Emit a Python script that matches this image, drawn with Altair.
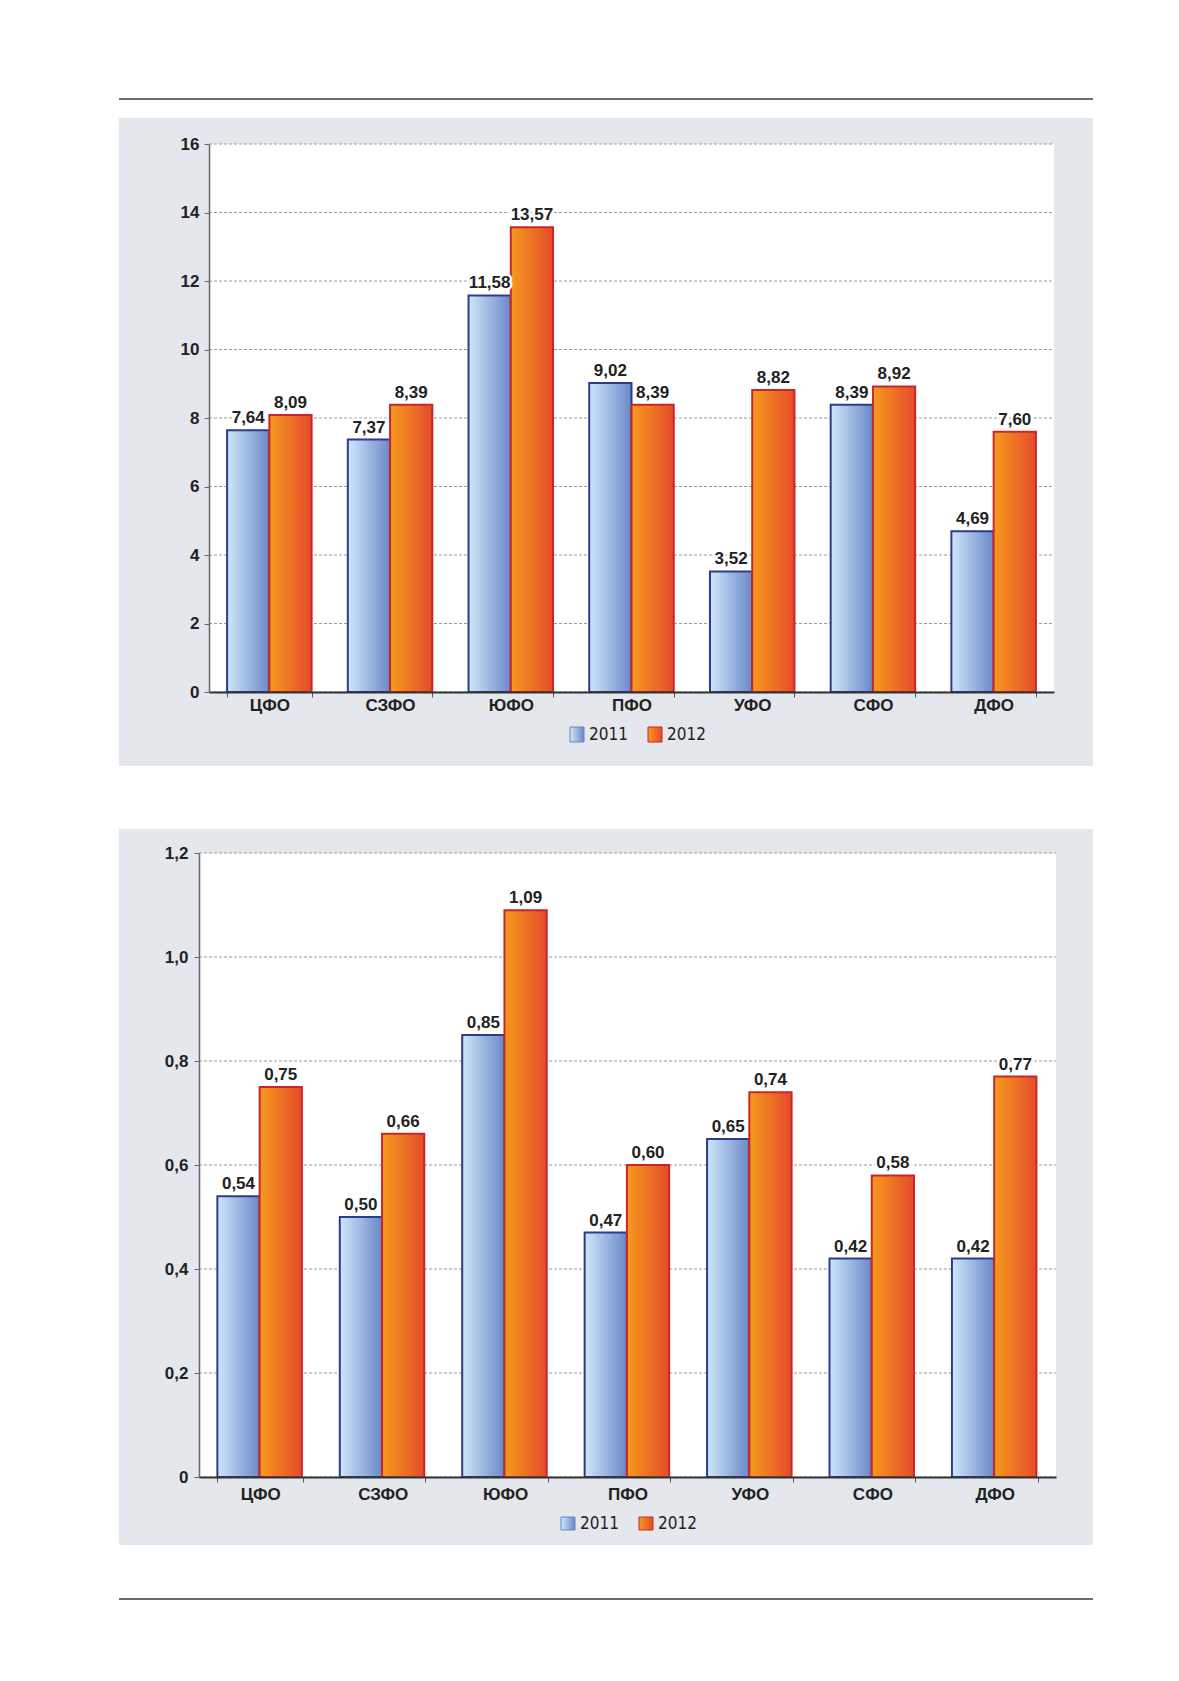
import altair as alt
import pandas as pd

# ---------------- data ----------------
regions = ["ЦФО", "СЗФО", "ЮФО", "ПФО", "УФО", "СФО", "ДФО"]
years = ["2011", "2012"]
top_2011 = [7.64, 7.37, 11.58, 9.02, 3.52, 8.39, 4.69]
top_2012 = [8.09, 8.39, 13.57, 8.39, 8.82, 8.92, 7.60]
bot_2011 = [0.54, 0.50, 0.85, 0.47, 0.65, 0.42, 0.42]
bot_2012 = [0.75, 0.66, 1.09, 0.60, 0.74, 0.58, 0.77]
top_ticks = [0, 2, 4, 6, 8, 10, 12, 14, 16]
bot_ticks = [0, 0.2, 0.4, 0.6, 0.8, 1.0, 1.2]

# ---------------- styles ----------------
FONT = "Liberation Sans"
NARROW = "Liberation Sans Narrow, DejaVu Sans Condensed, sans-serif"
PANEL = "#e4e8ec"

blue_grad = alt.Gradient(
    gradient="linear", x1=0, x2=1, y1=0, y2=0,
    stops=[alt.GradientStop(offset=0, color="#cfe7fa"),
           alt.GradientStop(offset=1, color="#6a88c8")])
orange_grad = alt.Gradient(
    gradient="linear", x1=0, x2=1, y1=0, y2=0,
    stops=[alt.GradientStop(offset=0, color="#f59a1e"),
           alt.GradientStop(offset=1, color="#e54b2b")])
BLUE_STROKE = "#2e3a8c"
ORANGE_STROKE = "#c9262b"


def make_panel(v2011, v2012, ticks, ymax, height, xrange, yaxis_offset,
               label_expr, label_pad_x, label_pad_y,
               panel_y, line_y, legend):
    df = pd.DataFrame({
        "region": regions * 2,
        "year": [years[0]] * len(regions) + [years[1]] * len(regions),
        "value": list(v2011) + list(v2012),
    })
    one = pd.DataFrame({"a": [0]})
    tick_df = pd.DataFrame({"value": ticks})

    xscale = alt.Scale(domain=regions, range=xrange, paddingInner=0.3, paddingOuter=0.15)
    yscale = alt.Scale(domain=[0, ymax], nice=False, zero=True)
    oscale = alt.Scale(domain=years, paddingInner=0, paddingOuter=0)

    xaxis = alt.Axis(title=None, labelAngle=0, labelFont=FONT, labelFontSize=17,
                     labelFontWeight="bold", labelColor="#222", domainColor="#333",
                     domainWidth=2, tickColor="#555", tickSize=5, tickBand="extent",
                     labelPadding=label_pad_x, grid=False, zindex=1)
    yaxis = alt.Axis(title=None, values=ticks, labelExpr=label_expr, labelFont=FONT,
                     labelFontSize=17, labelFontWeight="bold", labelColor="#222",
                     domainColor="#666", domainWidth=1.5, tickColor="#666", tickSize=5,
                     labelPadding=label_pad_y, offset=yaxis_offset, grid=False, zindex=1)

    base = alt.Chart(df)

    panel = alt.Chart(one).mark_rect(color=PANEL).encode(
        x=alt.value(-80), x2=alt.value(894),
        y=alt.value(panel_y[0]), y2=alt.value(panel_y[1]))
    plot_bg = alt.Chart(one).mark_rect(color="white").encode(
        x=alt.value(xrange[0]), x2=alt.value(xrange[1]),
        y=alt.value(0), y2=alt.value(height))
    hline = alt.Chart(one).mark_rule(color="#6b6b6b", strokeWidth=2).encode(
        x=alt.value(-80), x2=alt.value(894), y=alt.value(line_y))
    grid = alt.Chart(tick_df).mark_rule(color="#9a9a9a", strokeWidth=1,
                                        strokeDash=[3, 2]).encode(
        y=alt.Y("value:Q", scale=yscale, axis=yaxis),
        x=alt.value(xrange[0]), x2=alt.value(xrange[1]))

    enc = dict(
        x=alt.X("region:N", scale=xscale, axis=xaxis, sort=regions),
        xOffset=alt.XOffset("year:N", scale=oscale),
        y=alt.Y("value:Q", scale=yscale, axis=yaxis),
    )
    bars1 = base.transform_filter(alt.datum.year == years[0]).mark_bar(
        fill=blue_grad, stroke=BLUE_STROKE, strokeWidth=2).encode(**enc)
    bars2 = base.transform_filter(alt.datum.year == years[1]).mark_bar(
        fill=orange_grad, stroke=ORANGE_STROKE, strokeWidth=2).encode(**enc)

    lab = base.transform_calculate(
        label="replace(format(datum.value, '.2f'), '.', ',')")
    halo = lab.mark_text(font=FONT, fontSize=17, fontWeight="bold", baseline="bottom",
                         dy=-3, stroke="white", strokeWidth=5, color="white").encode(
        text="label:N", **enc)
    text = lab.mark_text(font=FONT, fontSize=17, fontWeight="bold", baseline="bottom",
                         dy=-3, color="#222").encode(text="label:N", **enc)

    (s1x, s2x, sy0, sy1, t1x, t2x, ty) = legend
    leg = [
        alt.Chart(one).mark_rect(fill=blue_grad, stroke="#6f80bf", strokeWidth=1).encode(
            x=alt.value(s1x), x2=alt.value(s1x + 14), y=alt.value(sy0), y2=alt.value(sy1)),
        alt.Chart(one).mark_rect(fill=orange_grad, stroke=ORANGE_STROKE, strokeWidth=1).encode(
            x=alt.value(s2x), x2=alt.value(s2x + 14), y=alt.value(sy0), y2=alt.value(sy1)),
        alt.Chart(one).mark_text(font=NARROW, fontSize=17, align="left", baseline="middle",
                                 color="#222").encode(
            x=alt.value(t1x), y=alt.value(ty), text=alt.value(years[0])),
        alt.Chart(one).mark_text(font=NARROW, fontSize=17, align="left", baseline="middle",
                                 color="#222").encode(
            x=alt.value(t2x), y=alt.value(ty), text=alt.value(years[1])),
    ]

    return alt.layer(panel, hline, plot_bg, grid, bars1, bars2, halo, text, *leg).properties(
        width=857, height=height)


top = make_panel(
    top_2011, top_2012, top_ticks, 16, 548, [10, 855], -10,
    "format(datum.value, 'd')", 0, 5,
    (-26, 622), -45,
    (371, 449, 583, 598, 390, 468, 590.5))

bottom = make_panel(
    bot_2011, bot_2012, bot_ticks, 1.2, 624, [0, 857], 0,
    "datum.value == 0 ? '0' : replace(format(datum.value, '.1f'), '.', ',')", 4, 6,
    (-24, 692), 746,
    (362, 440, 664, 677, 381, 459, 670.5))

chart = alt.vconcat(top, bottom, spacing=63).properties(
    padding={"left": 110, "top": 90, "right": 0, "bottom": 0},
    background="white",
).configure_view(stroke=None)

chart.save("out.html", embed_options={"renderer": "svg", "actions": False})
